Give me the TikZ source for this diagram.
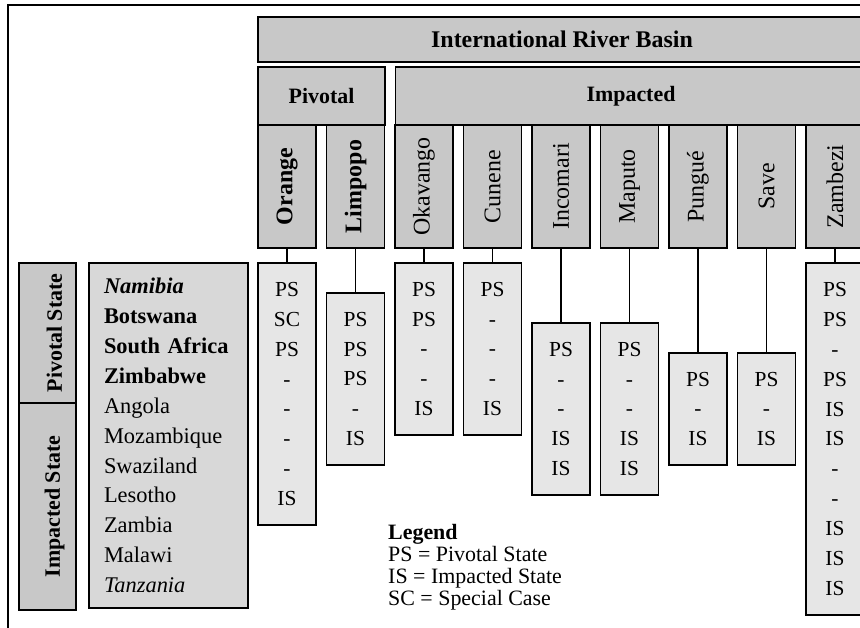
\documentclass[tikz,border=0pt]{standalone}
\usepackage{fontspec}
\setmainfont{Liberation Serif}
\usetikzlibrary{positioning}
\definecolor{hdrgray}{RGB}{200,200,200}
\definecolor{namegray}{RGB}{216,216,216}
\definecolor{valgray}{RGB}{230,230,230}
\tikzset{
  hdr/.style   ={rectangle, draw=black, line width=1.5pt, fill=hdrgray, outer sep=0pt,
                 inner sep=0pt, font=\fontsize{22}{26}\selectfont\bfseries},
  river/.style ={rectangle, draw=black, line width=1.5pt, fill=hdrgray, outer sep=0pt,
                 inner sep=0pt, minimum width=58bp, minimum height=123bp,
                 font=\fontsize{24}{28}\selectfont},
  vals/.style  ={rectangle, draw=black, line width=1.5pt, fill=valgray, outer sep=0pt,
                 inner sep=0pt, minimum width=58bp, align=center,
                 font=\fontsize{21.5}{30}\selectfont},
  names/.style ={rectangle, draw=black, line width=1.5pt, fill=namegray, outer sep=0pt,
                 inner xsep=15bp, inner ysep=0pt, text width=129bp, align=left,
                 font=\fontsize{22.5}{30}\selectfont},
  link/.style  ={line width=1.1pt, draw=black}
}

\begin{document}
\begin{tikzpicture}[x=1bp, y=-1bp]
\useasboundingbox (0,0) rectangle (860,628);
% ---- frame ----
\draw[line width=1.2pt] (8,640) -- (8,5) -- (870,5);

% ---- basin headers ----
\node[hdr, minimum width=608bp, minimum height=45bp, anchor=north west, font=\fontsize{24}{28}\selectfont\bfseries] (basin) at (258,17) {International River Basin};
\node[hdr, minimum width=127bp, minimum height=58bp, anchor=north west] (pivotal) at (258,67) {Pivotal};
\node[hdr, minimum width=471bp, minimum height=58bp, right=10.5bp of pivotal] (impacted) {Impacted};

% ---- rivers ----
\node[river, anchor=north west] (orange) at (pivotal.south west) {\rotatebox{90}{\bfseries Orange}};
\node[river, right=10.5bp of orange] (limpopo) {\rotatebox{90}{\bfseries Limpopo}};
\node[river, right=10.5bp of limpopo] (okavango) {\rotatebox{90}{Okavango}};
\node[river, right=10.5bp of okavango] (cunene) {\rotatebox{90}{Cunene}};
\node[river, right=10.5bp of cunene] (incomari) {\rotatebox{90}{Incomari}};
\node[river, right=10.5bp of incomari] (maputo) {\rotatebox{90}{Maputo}};
\node[river, right=10.5bp of maputo] (pungue) {\rotatebox{90}{Pungué}};
\node[river, right=10.5bp of pungue] (save) {\rotatebox{90}{Save}};
\node[river, right=10.5bp of save] (zambezi) {\rotatebox{90}{Zambezi}};

% ---- states per river ----
\node[vals, minimum height=262bp, below=15bp of orange] (orangev) {PS\\SC\\PS\\-\\-\\-\\-\\IS};
\node[vals, minimum height=172bp, below=45bp of limpopo] (limpopov) {PS\\PS\\PS\\-\\IS};
\node[vals, minimum height=172bp, below=15bp of okavango] (okavangov) {PS\\PS\\-\\-\\IS};
\node[vals, minimum height=172bp, below=15bp of cunene] (cunenev) {PS\\-\\-\\-\\IS};
\node[vals, minimum height=172bp, below=75bp of incomari] (incomariv) {PS\\-\\-\\IS\\IS};
\node[vals, minimum height=172bp, below=75bp of maputo] (maputov) {PS\\-\\-\\IS\\IS};
\node[vals, minimum height=112bp, below=105bp of pungue] (punguev) {PS\\-\\IS};
\node[vals, minimum height=112bp, below=105bp of save] (savev) {PS\\-\\IS};
\node[vals, minimum height=352bp, below=15bp of zambezi] (zambeziv) {PS\\PS\\-\\PS\\IS\\IS\\-\\-\\IS\\IS\\IS};

\draw[link] (orange) -- (orangev);
\draw[link] (limpopo) -- (limpopov);
\draw[link] (okavango) -- (okavangov);
\draw[link] (cunene) -- (cunenev);
\draw[link] (incomari) -- (incomariv);
\draw[link] (maputo) -- (maputov);
\draw[link] (pungue) -- (punguev);
\draw[link] (save) -- (savev);
\draw[link] (zambezi) -- (zambeziv);

% ---- countries ----
\node[names, minimum height=345bp, anchor=north west] (countries) at (89,263)
  {\textbf{\textit{Namibia}}\\\textbf{Botswana}\\\textbf{South Africa}\\\textbf{Zimbabwe}\\Angola\\Mozambique\\Swaziland\\Lesotho\\Zambia\\Malawi\\\textit{Tanzania}};
\node[hdr, minimum width=57bp, minimum height=140bp, anchor=north west] (pivstate) at (19,263)
  {\rotatebox{90}{\raisebox{-7bp}[\height][\depth]{Pivotal State}}};
\node[hdr, minimum width=57bp, minimum height=207bp, below=0bp of pivstate] (impstate)
  {\rotatebox{90}{\raisebox{-7bp}[\height][\depth]{Impacted State}}};

% ---- legend ----
\node[anchor=north west, align=left, inner sep=0pt, font=\fontsize{22}{22}\selectfont] (legend) at (388,524)
  {\textbf{Legend}\\PS = Pivotal State\\IS = Impacted State\\SC = Special Case};
\end{tikzpicture}
\end{document}
